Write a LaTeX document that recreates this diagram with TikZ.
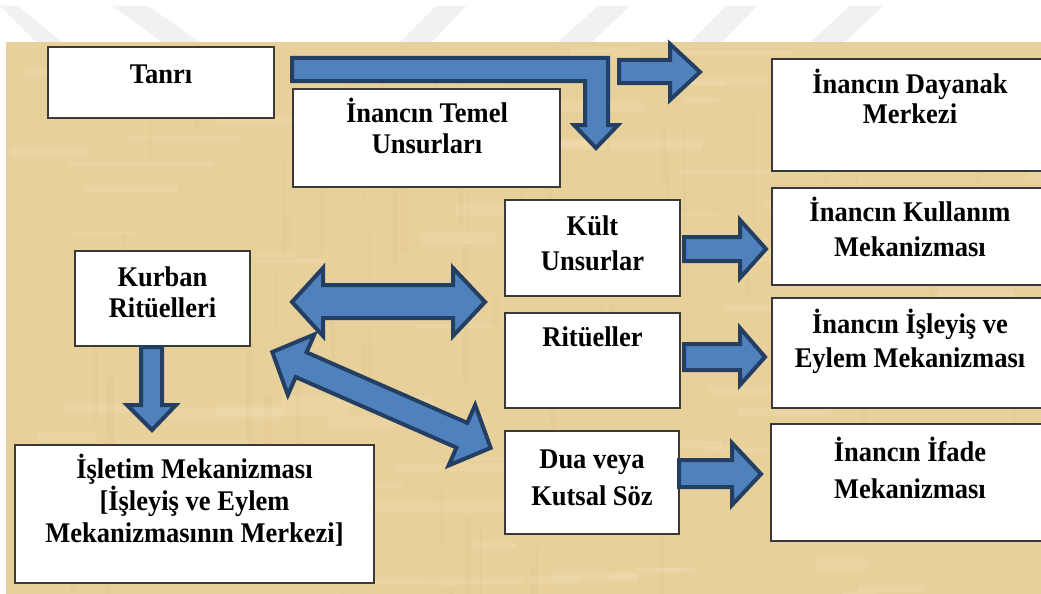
\documentclass[tikz,border=0pt]{standalone}
\usepackage{fontspec}
\setmainfont{Liberation Serif}
\newfontfamily\lblfamily[FakeStretch=0.93]{Liberation Serif}
\definecolor{parch}{HTML}{E8D09B}
\definecolor{parchlight}{HTML}{F3E4BA}
\definecolor{parchdark}{HTML}{D6B97E}
\definecolor{afill}{HTML}{4F81BD}
\definecolor{aline}{HTML}{243F64}
\definecolor{bline}{HTML}{3A3A3A}
\definecolor{wm}{HTML}{F1F1F1}
\newcommand\st{\rule{0pt}{26pt}}
\begin{document}
\begin{tikzpicture}[x=1pt,y=-1pt,
  box/.style={draw=bline, line width=2pt, fill=white, inner sep=0pt, outer sep=0pt},
  lbl/.style={font=\lblfamily\bfseries\fontsize{28.5}{32}\selectfont, align=center, inner sep=0pt, anchor=north},
  barrow/.style={fill=afill, draw=aline, line width=4pt, line join=miter}]
\useasboundingbox (0,0) rectangle (1041,594);
\fill[white] (0,0) rectangle (1041,594);
% faint watermark
\fill[wm] (0,6) -- (18,6) -- (62,42) -- (36,42) -- cycle;
\fill[wm] (112,6) -- (148,6) -- (200,42) -- (162,42) -- cycle;
\fill[wm] (400,42) -- (432,42) -- (466,6) -- (436,6) -- cycle;
\fill[wm] (558,42) -- (592,42) -- (630,6) -- (598,6) -- cycle;
\fill[wm] (690,42) -- (722,42) -- (757,6) -- (726,6) -- cycle;
\fill[wm] (810,42) -- (845,42) -- (883,6) -- (850,6) -- cycle;
% parchment
\fill[parch] (6,42) rectangle (1041,594);
\begin{scope}
\clip (6,42) rectangle (1041,594);
\pgfmathsetseed{7}
\foreach \i in {1,...,90}{
  \pgfmathsetmacro\xx{6+rnd*1035}
  \pgfmathsetmacro\yy{42+rnd*552}
  \pgfmathsetmacro\ww{30+rnd*140}
  \pgfmathsetmacro\hh{3+rnd*9}
  \fill[parchlight, opacity=0.25] (\xx,\yy) rectangle ++(\ww,\hh);
}
\foreach \i in {1,...,70}{
  \pgfmathsetmacro\xx{6+rnd*1035}
  \pgfmathsetmacro\yy{42+rnd*552}
  \pgfmathsetmacro\ww{2+rnd*5}
  \pgfmathsetmacro\hh{30+rnd*120}
  \fill[parchdark, opacity=0.1] (\xx,\yy) rectangle ++(\ww,\hh);
}
\end{scope}
% boxes
\node[box, minimum width=226pt, minimum height=71pt] (tanri) at (161,82.5) {};
\node[box, minimum width=267pt, minimum height=98pt] (temel) at (426.5,138) {};
\node[box, minimum width=277pt, minimum height=112pt] (dayanak) at (910.5,115) {};
\node[box, minimum width=175pt, minimum height=96pt] (kult) at (592.5,248) {};
\node[box, minimum width=277pt, minimum height=97pt] (kullanim) at (910.5,236.5) {};
\node[box, minimum width=175pt, minimum height=95pt] (kurban) at (162.5,298.5) {};
\node[box, minimum width=175pt, minimum height=95pt] (rituel) at (592.5,360.5) {};
\node[box, minimum width=277pt, minimum height=110pt] (isleyis) at (910.5,353) {};
\node[box, minimum width=174pt, minimum height=103pt] (dua) at (592,482.5) {};
\node[box, minimum width=278pt, minimum height=117pt] (ifade) at (910,482.5) {};
\node[box, minimum width=359pt, minimum height=138pt] (isletim) at (194.5,514) {};
% labels
\node[lbl] (tanriT) at (161,57) {\st Tanrı};
\node[lbl] (temelT) at (427,96) {\st İnancın Temel\\[-1pt]Unsurları};
\node[lbl] (dayanakT) at (910,67) {\st İnancın Dayanak\\[-2pt]Merkezi};
\node[lbl] (kullanimT) at (910,195) {\st İnancın Kullanım\\[3pt]Mekanizması};
\node[lbl] (kultT) at (592.5,209) {\st Kült\\[3pt]Unsurlar};
\node[lbl] (kurbanT) at (162.5,260) {\st Kurban\\[-1pt]Ritüelleri};
\node[lbl] (rituelT) at (592.5,320) {\st Ritüeller};
\node[lbl] (isleyisT) at (910,307) {\st İnancın İşleyiş ve\\[2pt]Eylem Mekanizması};
\node[lbl] (duaT) at (592,442) {\st Dua veya\\[5pt]Kutsal Söz};
\node[lbl] (ifadeT) at (910,435) {\st İnancın İfade\\[5pt]Mekanizması};
\node[lbl] (isletimT) at (194.5,452) {\st İşletim Mekanizması\\{[}İşleyiş ve Eylem\\Mekanizmasının Merkezi{]}};
% block arrows
\draw[barrow] (292,58) -- (608,58) -- (608,125) -- (618,125) -- (596,148) -- (574,125) -- (585,125) -- (585,81) -- (292,81) -- cycle;
\draw[barrow] (619,60) -- (670,60) -- (670,44) -- (700,72) -- (670,100) -- (670,83) -- (619,83) -- cycle;
\draw[barrow] (292,302) -- (323,268) -- (323,285) -- (453,285) -- (453,268) -- (485,302) -- (453,336) -- (453,318) -- (323,318) -- (323,336) -- cycle;
\begin{scope}[shift={(270,351)}, rotate=-23.7]
\draw[barrow] (2.5,0) -- (34,-33) -- (34,-13.5) -- (209.6,-13.5) -- (209.6,-33) -- (241,0) -- (209.6,33) -- (209.6,13.5) -- (34,13.5) -- (34,33) -- cycle;
\end{scope}
\draw[barrow] (141,347) -- (162,347) -- (162,405) -- (176,405) -- (152,430) -- (127,405) -- (141,405) -- cycle;
\draw[barrow] (684,237) -- (740,237) -- (740,220) -- (766,249) -- (740,278) -- (740,261) -- (684,261) -- cycle;
\draw[barrow] (684,344) -- (740,344) -- (740,328) -- (765,357) -- (740,385) -- (740,370) -- (684,370) -- cycle;
\draw[barrow] (679,460) -- (732,460) -- (732,443) -- (761,474) -- (732,505) -- (732,487) -- (679,487) -- cycle;
\end{tikzpicture}
\end{document}
